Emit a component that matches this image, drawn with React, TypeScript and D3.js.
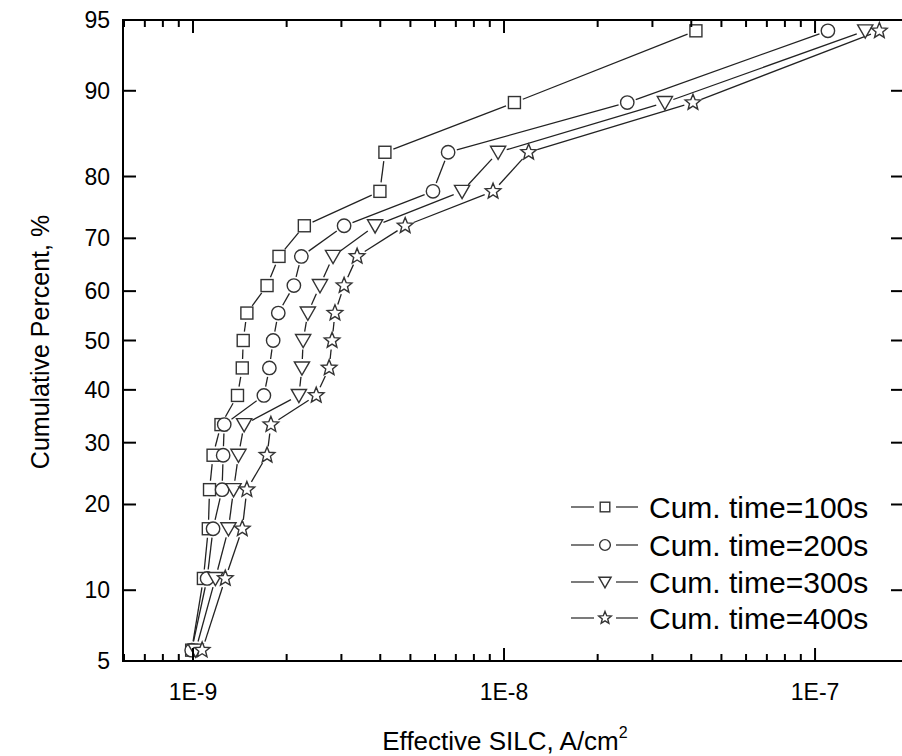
import React from "react";
import * as d3 from "d3";

// ---- data ----
const percentLevels = [5.6, 11.1, 16.7, 22.2, 27.8, 33.3, 38.9, 44.4, 50.0, 55.6, 61.1, 66.7, 72.2, 77.8, 83.3, 88.9, 94.4];
const silc100 = [0.99e-9, 1.08e-9, 1.12e-9, 1.13e-9, 1.16e-9, 1.23e-9, 1.39e-9, 1.44e-9, 1.45e-9, 1.49e-9, 1.73e-9, 1.89e-9, 2.28e-9, 3.99e-9, 4.14e-9, 10.8e-9, 41.4e-9];
const silc200 = [0.99e-9, 1.11e-9, 1.16e-9, 1.24e-9, 1.25e-9, 1.26e-9, 1.69e-9, 1.76e-9, 1.81e-9, 1.88e-9, 2.11e-9, 2.23e-9, 3.06e-9, 5.91e-9, 6.61e-9, 24.9e-9, 110e-9];
const silc300 = [1.02e-9, 1.18e-9, 1.30e-9, 1.35e-9, 1.40e-9, 1.46e-9, 2.19e-9, 2.24e-9, 2.26e-9, 2.34e-9, 2.56e-9, 2.82e-9, 3.85e-9, 7.33e-9, 9.57e-9, 32.9e-9, 145e-9];
const silc400 = [1.07e-9, 1.27e-9, 1.44e-9, 1.49e-9, 1.73e-9, 1.78e-9, 2.49e-9, 2.74e-9, 2.80e-9, 2.86e-9, 3.06e-9, 3.37e-9, 4.81e-9, 9.22e-9, 12.0e-9, 40.5e-9, 161e-9];
const seriesNames = ["Cum. time=100s", "Cum. time=200s", "Cum. time=300s", "Cum. time=400s"];
const seriesSymbols = ["square", "circle", "triangle", "star"];
const yTickValues = [5, 10, 20, 30, 40, 50, 60, 70, 80, 90, 95];
const xMajorTicks = [1e-9, 1e-8, 1e-7];
const xMajorLabels = ["1E-9", "1E-8", "1E-7"];

// inverse normal CDF (Acklam)
function probit(p: number): number {
  const a = [-3.969683028665376e1, 2.209460984245205e2, -2.759285104469687e2, 1.38357751867269e2, -3.066479806614716e1, 2.506628277459239];
  const b = [-5.447609879822406e1, 1.615858368580409e2, -1.556989798598866e2, 6.680131188771972e1, -1.328068155288572e1];
  const c = [-7.784894002430293e-3, -3.223964580411365e-1, -2.400758277161838, -2.549732539343734, 4.374664141464968, 2.938163982698783];
  const d = [7.784695709041462e-3, 3.224671290700398e-1, 2.445134137142996, 3.754408661907416];
  const pl = 0.02425;
  let q, r;
  if (p < pl) {
    q = Math.sqrt(-2 * Math.log(p));
    return (((((c[0] * q + c[1]) * q + c[2]) * q + c[3]) * q + c[4]) * q + c[5]) / ((((d[0] * q + d[1]) * q + d[2]) * q + d[3]) * q + 1);
  } else if (p <= 1 - pl) {
    q = p - 0.5;
    r = q * q;
    return ((((((a[0] * r + a[1]) * r + a[2]) * r + a[3]) * r + a[4]) * r + a[5]) * q) / (((((b[0] * r + b[1]) * r + b[2]) * r + b[3]) * r + b[4]) * r + 1);
  } else {
    q = Math.sqrt(-2 * Math.log(1 - p));
    return -(((((c[0] * q + c[1]) * q + c[2]) * q + c[3]) * q + c[4]) * q + c[5]) / ((((d[0] * q + d[1]) * q + d[2]) * q + d[3]) * q + 1);
  }
}

const W = 902, H = 756;
const L = 123, R = 904, T = 20, B = 661;
const FONT = "'Liberation Sans', Arial, Helvetica, sans-serif";
const AX = "#000";
const LINE = "#222";
const MK = "#333";
const TXT = "#000";

const x = d3.scaleLog().domain([5.955e-10, 1.932e-7]).range([L, R]);
const yLin = d3.scaleLinear().domain([probit(0.05), probit(0.95)]).range([B, T]);
const y = (pct: number) => yLin(probit(pct / 100));

function starPath(ro: number, ri: number) {
  const pts: string[] = [];
  for (let k = 0; k < 10; k++) {
    const ang = -Math.PI / 2 + (k * Math.PI) / 5;
    const rr = k % 2 === 0 ? ro : ri;
    pts.push(`${(rr * Math.cos(ang)).toFixed(2)},${(rr * Math.sin(ang)).toFixed(2)}`);
  }
  return "M" + pts.join("L") + "Z";
}

function Marker({ kind, cx, cy, s }: { kind: string; cx: number; cy: number; s: number }) {
  const common = { fill: "#fff", stroke: MK, strokeWidth: 1.4 };
  if (kind === "square") return <rect x={cx - 6 * s} y={cy - 6 * s} width={12 * s} height={12 * s} {...common} />;
  if (kind === "circle") return <circle cx={cx} cy={cy} r={6.7 * s} {...common} />;
  if (kind === "triangle")
    return <path d={`M${cx - 7.6 * s},${cy - 6 * s}L${cx + 7.6 * s},${cy - 6 * s}L${cx},${cy + 7.2 * s}Z`} {...common} />;
  return <path d={starPath(8.2 * s, 3.6 * s)} transform={`translate(${cx},${cy})`} {...common} strokeLinejoin="miter" />;
}

export default function App() {
  const allSeries = [silc100, silc200, silc300, silc400];
  const gap = 9;

  const pts = allSeries.map((vals) => vals.map((v, i) => [x(v), y(percentLevels[i])] as [number, number]));

  const segs: JSX.Element[] = [];
  pts.forEach((p, si) => {
    for (let i = 0; i < p.length - 1; i++) {
      const [x1, y1] = p[i];
      const [x2, y2] = p[i + 1];
      const dx = x2 - x1, dy = y2 - y1;
      const len = Math.hypot(dx, dy);
      if (len <= 2 * gap + 1) continue;
      const ux = dx / len, uy = dy / len;
      segs.push(
        <line key={`s${si}-${i}`} x1={x1 + ux * gap} y1={y1 + uy * gap} x2={x2 - ux * gap} y2={y2 - uy * gap} stroke={LINE} strokeWidth={1.3} />
      );
    }
  });

  const [d0, d1] = x.domain();
  const minorTicks: number[] = [];
  for (let e = -10; e <= -7; e++) {
    for (let m = 2; m <= 9; m++) {
      const v = m * Math.pow(10, e);
      if (v >= d0 && v <= d1) minorTicks.push(v);
    }
  }

  const legendX0 = 571, legendX1 = 638, legendSym = 605, legendText = 649;
  const legendRows = [507, 545, 582, 618];

  return (
    <svg width={W} height={H} style={{ position: "absolute", left: 0, top: 0, background: "#fff" }} fontFamily={FONT}>
      <rect x={0} y={0} width={W} height={H} fill="#fff" />
      {segs}
      {pts.map((p, si) =>
        p.map(([cx, cy], i) => <Marker key={`m${si}-${i}`} kind={seriesSymbols[si]} cx={cx} cy={cy} s={1} />)
      )}

      <rect x={L} y={T} width={R - L} height={B - T} fill="none" stroke={AX} strokeWidth={2} />

      {yTickValues.map((v) => (
        <g key={`yt${v}`}>
          <line x1={L} x2={L + 13} y1={y(v)} y2={y(v)} stroke={AX} strokeWidth={2} />
          <line x1={R} x2={R - 13} y1={y(v)} y2={y(v)} stroke={AX} strokeWidth={2} />
          <text x={110} y={y(v)} textAnchor="end" dominantBaseline="central" fontSize={23} fill={TXT}>
            {v}
          </text>
        </g>
      ))}

      {xMajorTicks.map((v, i) => (
        <g key={`xt${i}`}>
          <line x1={x(v)} x2={x(v)} y1={B} y2={B - 13} stroke={AX} strokeWidth={2} />
          <line x1={x(v)} x2={x(v)} y1={T} y2={T + 13} stroke={AX} strokeWidth={2} />
          <text x={x(v)} y={700} textAnchor="middle" fontSize={23} fill={TXT}>
            {xMajorLabels[i]}
          </text>
        </g>
      ))}
      {minorTicks.map((v, i) => (
        <g key={`xm${i}`}>
          <line x1={x(v)} x2={x(v)} y1={B} y2={B - 7} stroke={AX} strokeWidth={2} />
          <line x1={x(v)} x2={x(v)} y1={T} y2={T + 7} stroke={AX} strokeWidth={2} />
        </g>
      ))}

      <text x={505} y={750} textAnchor="middle" fontSize={26} fill={TXT}>
        Effective SILC, A/cm<tspan fontSize={16} dy={-12}>2</tspan>
      </text>
      <text transform={`translate(49,342) rotate(-90)`} textAnchor="middle" fontSize={25} fill={TXT}>
        Cumulative Percent, %
      </text>

      {seriesNames.map((name, i) => (
        <g key={`lg${i}`}>
          <line x1={legendX0} x2={legendSym - 11} y1={legendRows[i]} y2={legendRows[i]} stroke={LINE} strokeWidth={1.2} />
          <line x1={legendSym + 11} x2={legendX1} y1={legendRows[i]} y2={legendRows[i]} stroke={LINE} strokeWidth={1.2} />
          <Marker kind={seriesSymbols[i]} cx={legendSym} cy={legendRows[i]} s={0.8} />
          <text x={legendText} y={legendRows[i]} dominantBaseline="central" fontSize={30} fill={TXT}>
            {name}
          </text>
        </g>
      ))}
    </svg>
  );
}
